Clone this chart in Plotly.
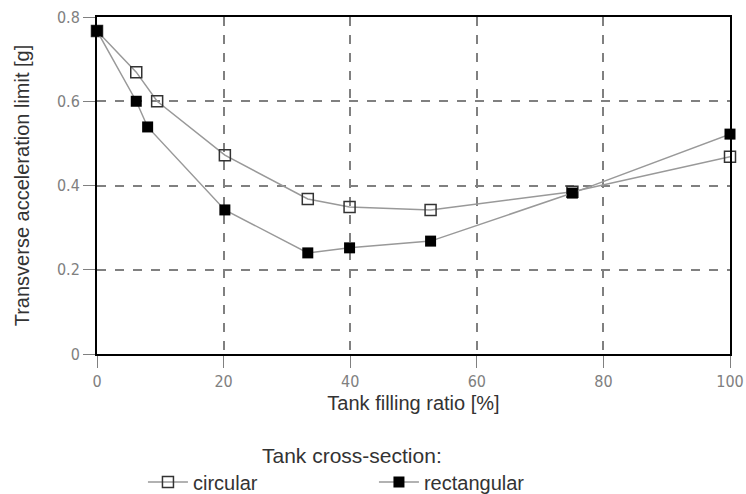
import plotly.graph_objects as go

circ_x = [0, 6.2, 9.5, 20.2, 33.3, 39.9, 52.7, 75.1, 100]
circ_y = [0.767, 0.669, 0.600, 0.472, 0.368, 0.349, 0.342, 0.385, 0.468]
rect_x = [0, 6.2, 8.0, 20.2, 33.3, 39.9, 52.7, 75.1, 100]
rect_y = [0.767, 0.600, 0.539, 0.342, 0.240, 0.252, 0.268, 0.382, 0.522]

x_ticks = [0, 20, 40, 60, 80, 100]
y_ticks = [0, 0.2, 0.4, 0.6, 0.8]
y_tick_text = ["0", "0.2", "0.4", "0.6", "0.8"]

fig = go.Figure()
fig.add_trace(go.Scatter(
    x=circ_x, y=circ_y, mode="lines+markers", name="circular",
    line=dict(color="#999999", width=1.5),
    marker=dict(symbol="square-open", size=11, color="#333333", line=dict(width=1.5, color="#444444")),
    cliponaxis=False,
))
fig.add_trace(go.Scatter(
    x=rect_x, y=rect_y, mode="lines+markers", name="rectangular",
    line=dict(color="#999999", width=1.5),
    marker=dict(symbol="square", size=11, color="#000000"),
    cliponaxis=False,
))

tickfont = dict(family="DejaVu Sans Condensed", size=16, color="#808080")
titlefont = dict(family="Liberation Sans", size=20, color="#333333")
fig.update_xaxes(
    range=[0, 100], tickvals=x_ticks, ticks="outside", ticklen=12, tickcolor="#808080",
    tickfont=tickfont, showgrid=True, gridcolor="#808080", griddash="dash", gridwidth=1.5,
    showline=True, linecolor="#000000", linewidth=2, mirror=True, zeroline=False,
    automargin=False,
    title=dict(text="Tank filling ratio [%]", font=titlefont, standoff=6),
)
fig.update_yaxes(
    range=[0, 0.8], tickvals=y_ticks, ticktext=y_tick_text, ticks="outside", ticklen=12, tickcolor="#808080",
    tickfont=tickfont, showgrid=True, gridcolor="#808080", griddash="dash", gridwidth=1.5,
    showline=True, linecolor="#000000", linewidth=2, mirror=True, zeroline=False,
    automargin=False,
    title=dict(text="Transverse acceleration limit [g]", font=titlefont, standoff=22),
)
fig.add_annotation(
    text="Tank cross-section:", xref="paper", yref="paper", x=(352 - 97) / 634, y=(354 - 455) / 337,
    xanchor="center", yanchor="middle", showarrow=False,
    font=dict(family="Liberation Sans", size=21, color="#333333"),
)
fig.update_layout(
    width=746, height=494,
    margin=dict(l=97, r=16, t=17, b=140),
    plot_bgcolor="white", paper_bgcolor="white",
    legend=dict(
        orientation="h", x=0.0726, xanchor="left", yref="container", y=0.064, yanchor="top",
        font=dict(family="Liberation Sans", size=20, color="#333333"),
        entrywidth=176, itemwidth=40,
    ),
)
fig.write_html("out.html", config={"displayModeBar": False},
               post_script="document.body.style.margin='0px';")
